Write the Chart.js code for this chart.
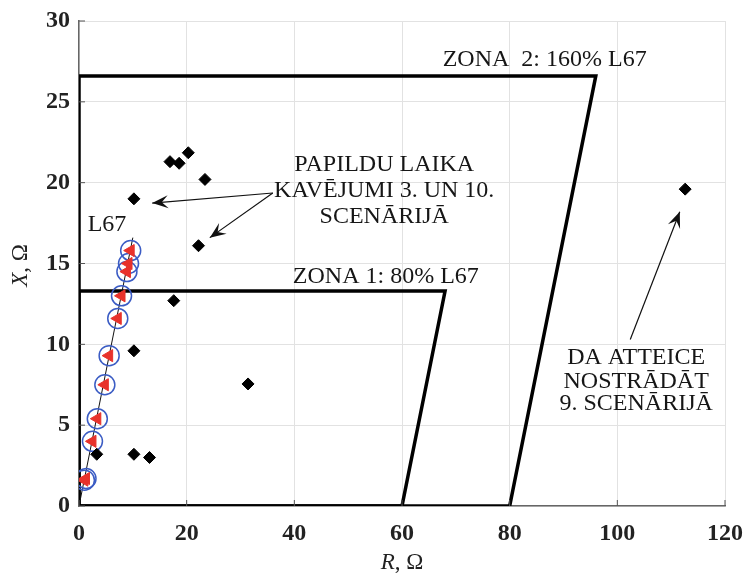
<!DOCTYPE html>
<html>
<head>
<meta charset="utf-8">
<script src="https://cdn.jsdelivr.net/npm/chart.js@4.4.1/dist/chart.umd.min.js"></script>
<style>
  body { margin: 0; background: #fff; }
  #wrap { width: 746px; height: 576px; }
</style>
</head>
<body>
<div id="wrap"><canvas id="c"></canvas></div>
<script>
// zone outlines (R, X in ohm)
const zone1R = [0, 0, 68, 60, 0];
const zone1X = [0, 13.3, 13.3, 0, 0];
const zone2R = [0, 0, 96, 80, 0];
const zone2X = [0, 26.6, 26.6, 0, 0];

// L67 line impedance
const lineR = [0, 10];
const lineX = [0, 16.6];

// fault points on the line (circles + triangles)
const faultR = [1.0, 1.3, 2.5, 3.4, 4.8, 5.6, 7.2, 7.9, 8.9, 9.2, 9.6];
const faultX = [1.6, 1.7, 4.0, 5.4, 7.5, 9.3, 11.6, 13.0, 14.5, 15.0, 15.8];

// measured impedances (black diamonds)
const measR = [3.3, 10.2, 13.1, 10.2, 17.6, 31.4, 10.2, 16.9, 18.6, 20.3, 23.4, 22.2, 112.6];
const measX = [3.2, 3.2, 3.0, 9.6, 12.7, 7.55, 19.0, 21.3, 21.2, 21.85, 20.2, 16.1, 19.6];

const xTicks = [0, 20, 40, 60, 80, 100, 120];
const yTicks = [0, 5, 10, 15, 20, 25, 30];

// text labels: [R, X, text]
const labels = [
  [86.5, 27.6, 'ZONA  2: 160% L67'],
  [57.0, 14.2, 'ZONA 1: 80% L67'],
  [5.2, 17.4, 'L67'],
  [56.7, 21.1, 'PAPILDU LAIKA'],
  [56.7, 19.5, 'KAVĒJUMI 3. UN 10.'],
  [56.7, 17.9, 'SCENĀRIJĀ'],
  [103.5, 9.2, 'DA ATTEICE'],
  [103.5, 7.7, 'NOSTRĀDĀT'],
  [103.5, 6.3, '9. SCENĀRIJĀ']
];
// arrows: [fromR, fromX, toR, toX]
const arrows = [
  [36.0, 19.36, 13.6, 18.74],
  [36.0, 19.36, 24.3, 16.6],
  [102.4, 10.3, 111.6, 18.2]
];

const pts = (rs, xs) => rs.map((r, i) => ({ x: r, y: xs[i] }));

const serif = '"Liberation Serif", "DejaVu Serif", serif';

const extras = {
  id: 'extras',
  afterDatasetsDraw(chart) {
    const { ctx, scales: { x, y }, chartArea: a } = chart;
    ctx.save();
    // inward tick marks
    ctx.strokeStyle = '#555';
    ctx.lineWidth = 1;
    yTicks.forEach(v => {
      const py = y.getPixelForValue(v);
      ctx.beginPath(); ctx.moveTo(a.left, py); ctx.lineTo(a.left + 6, py); ctx.stroke();
    });
    xTicks.forEach(v => {
      const px = x.getPixelForValue(v);
      ctx.beginPath(); ctx.moveTo(px, a.bottom); ctx.lineTo(px, a.bottom - 6); ctx.stroke();
    });

    // annotation text
    ctx.fillStyle = '#161616';
    ctx.font = '24px ' + serif;
    ctx.textAlign = 'center';
    ctx.textBaseline = 'middle';
    labels.forEach(([r, xv, t]) => {
      ctx.fillText(t, x.getPixelForValue(r), y.getPixelForValue(xv));
    });

    // arrows
    ctx.strokeStyle = '#111';
    ctx.fillStyle = '#111';
    ctx.lineWidth = 1.2;
    arrows.forEach(([r0, x0, r1, x1]) => {
      const ax = x.getPixelForValue(r0), ay = y.getPixelForValue(x0);
      const bx = x.getPixelForValue(r1), by = y.getPixelForValue(x1);
      const ang = Math.atan2(by - ay, bx - ax);
      ctx.beginPath(); ctx.moveTo(ax, ay); ctx.lineTo(bx, by); ctx.stroke();
      const L = 16, W = 6.5;
      ctx.beginPath();
      ctx.moveTo(bx, by);
      ctx.lineTo(bx - L * Math.cos(ang) + W * Math.sin(ang), by - L * Math.sin(ang) - W * Math.cos(ang));
      ctx.lineTo(bx - 0.6 * L * Math.cos(ang), by - 0.6 * L * Math.sin(ang));
      ctx.lineTo(bx - L * Math.cos(ang) - W * Math.sin(ang), by - L * Math.sin(ang) + W * Math.cos(ang));
      ctx.closePath();
      ctx.fill();
    });

    // axis titles
    ctx.fillStyle = '#222';
    const cx = (a.left + a.right) / 2;
    ctx.textAlign = 'left';
    ctx.font = 'italic 23px ' + serif;
    const w1 = ctx.measureText('R').width;
    ctx.font = '23px ' + serif;
    const w2 = ctx.measureText(', Ω').width;
    let sx = cx - (w1 + w2) / 2;
    ctx.font = 'italic 23px ' + serif;
    ctx.fillText('R', sx, 563);
    ctx.font = '23px ' + serif;
    ctx.fillText(', Ω', sx + w1, 563);

    ctx.translate(21, (a.top + a.bottom) / 2 + 2);
    ctx.rotate(-Math.PI / 2);
    ctx.font = 'italic 23px ' + serif;
    const w3 = ctx.measureText('X').width;
    sx = -(w3 + w2) / 2;
    ctx.fillText('X', sx, 0);
    ctx.font = '23px ' + serif;
    ctx.fillText(', Ω', sx + w3, 0);
    ctx.restore();
  }
};

new Chart(document.getElementById('c'), {
  type: 'scatter',
  data: {
    datasets: [
      {
        data: pts(zone2R, zone2X), showLine: true, borderColor: '#000', borderWidth: 3.5,
        pointRadius: 0, fill: false, order: 5
      },
      {
        data: pts(zone1R, zone1X), showLine: true, borderColor: '#000', borderWidth: 3.5,
        pointRadius: 0, fill: false, order: 5
      },
      {
        data: pts(lineR, lineX), showLine: true, borderColor: '#111', borderWidth: 1,
        pointRadius: 0, order: 4
      },
      {
        data: pts(faultR, faultX), pointStyle: 'circle', pointRadius: 10,
        borderColor: '#3b5cc4', borderWidth: 1.5, backgroundColor: 'rgba(0,0,0,0)', order: 3
      },
      {
        data: pts(faultR, faultX), pointStyle: 'triangle', pointRadius: 7, rotation: -90,
        borderColor: '#e8322b', backgroundColor: '#e8322b', borderWidth: 1, order: 2
      },
      {
        data: pts(measR, measX), pointStyle: 'rectRot', pointRadius: 6,
        borderColor: '#000', backgroundColor: '#000', borderWidth: 1, order: 1
      }
    ]
  },
  options: {
    responsive: true,
    maintainAspectRatio: false,
    animation: false,
    layout: { padding: { left: 0, right: 21, top: 21, bottom: 0 } },
    plugins: { legend: { display: false }, tooltip: { enabled: false } },
    scales: {
      x: {
        type: 'linear', min: 0, max: 120,
        afterFit: s => { s.height = 70; s.paddingLeft = 0; s.paddingRight = 0; },
        afterBuildTicks: s => { s.ticks = xTicks.map(v => ({ value: v })); },
        grid: { color: '#e2e2e2', drawTicks: false },
        border: { color: '#666', width: 1.5 },
        ticks: { padding: 13, color: '#222', font: { family: serif, size: 24, weight: 'bold' } }
      },
      y: {
        type: 'linear', min: 0, max: 30,
        afterFit: s => { s.width = 79; s.paddingTop = 0; s.paddingBottom = 0; },
        afterBuildTicks: s => { s.ticks = yTicks.map(v => ({ value: v })); },
        grid: { color: '#e2e2e2', drawTicks: false },
        border: { color: '#666', width: 1.5 },
        ticks: { padding: 9, color: '#222', font: { family: serif, size: 24, weight: 'bold' } }
      }
    }
  },
  plugins: [extras]
});
</script>
</body>
</html>
